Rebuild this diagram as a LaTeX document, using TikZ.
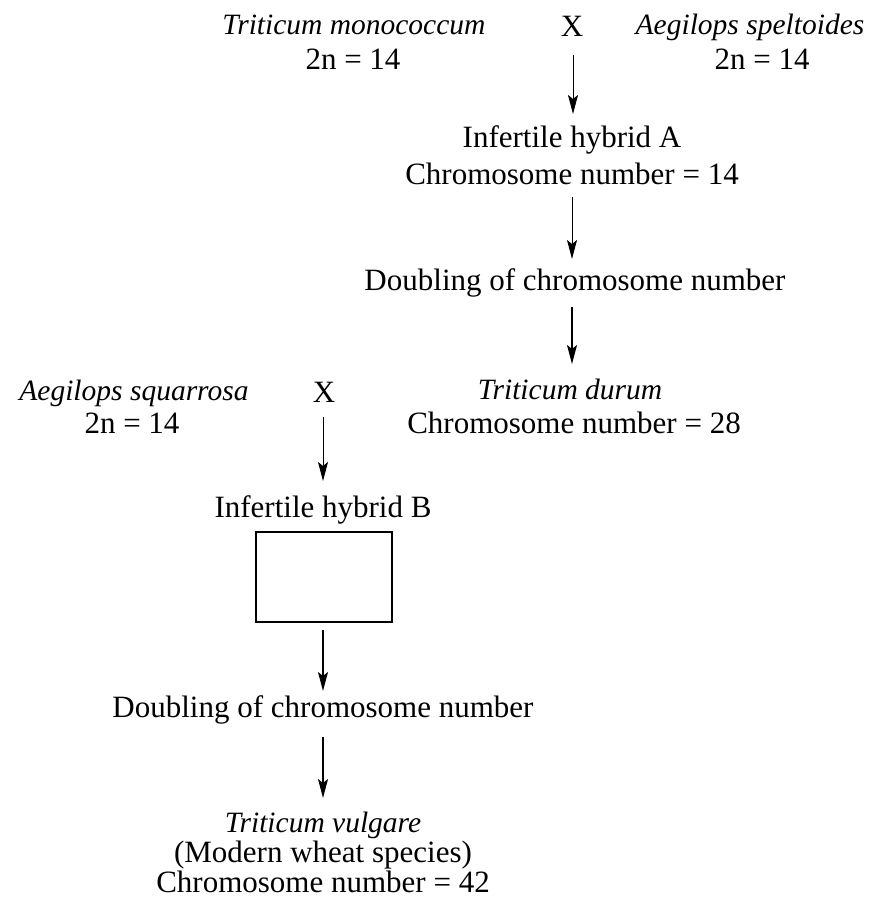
\documentclass[tikz,border=0pt]{standalone}
\usepackage{fontspec}
\setmainfont{Liberation Serif}
\usetikzlibrary{arrows.meta}
\begin{document}
\begin{tikzpicture}[x=1pt,y=-1pt,
  txt/.style={inner sep=0pt,anchor=base,font=\fontsize{31}{36}\selectfont},
  it/.style={inner sep=0pt,anchor=base,font=\fontsize{29.5}{36}\selectfont\itshape},
  arr/.style={line width=1.4pt,-{Stealth[length=19pt,width=10pt,inset=4pt]}},
  thinarr/.style={arr,line width=0.9pt}]
\useasboundingbox (0,0) rectangle (883,904);
% top cross
\node[it] (tm) at (354,35) {Triticum monococcum};
\node[txt] (tmn) at (353,70) {2n = 14};
\node[txt] (x1) at (572,37) {X};
\node[it] (as) at (750,35) {Aegilops speltoides};
\node[txt] (asn) at (762,70) {2n = 14};
\node[txt] (ha) at (572,148) {Infertile hybrid A};
\node[txt] (han) at (572,185) {Chromosome number = 14};
\node[txt] (d1) at (575,290) {Doubling of chromosome number};
\node[it] (td) at (570,399) {Triticum durum};
\node[txt] (tdn) at (574,433) {Chromosome number = 28};
% second cross
\node[it] (sq) at (134,400) {Aegilops squarrosa};
\node[txt] (sqn) at (132,433) {2n = 14};
\node[txt] (x2) at (324,402) {X};
\node[txt] (hb) at (323,517) {Infertile hybrid B};
\node[draw,line width=1.3pt,minimum width=136pt,minimum height=90pt,inner sep=0pt] (box) at (324,577) {};
\node[txt] (d2) at (323,717) {Doubling of chromosome number};
\node[it] (tv) at (323,832) {Triticum vulgare};
\node[txt] (tvm) at (323,862) {(Modern wheat species)};
\node[txt] (tvn) at (323,892) {Chromosome number = 42};
% connectors
\coordinate (a1s) at (573,55);  \coordinate (a1e) at (573,114);
\coordinate (a2s) at (572,197); \coordinate (a2e) at (572,259);
\coordinate (a3s) at (572,307); \coordinate (a3e) at (572,364);
\coordinate (a4s) at (323,417); \coordinate (a4e) at (323,481);
\coordinate (a5s) at (323,630); \coordinate (a5e) at (323,691);
\coordinate (a6s) at (323,737); \coordinate (a6e) at (323,798);
\draw[thinarr] (a1s) -- (a1e);
\draw[thinarr] (a2s) -- (a2e);
\draw[arr] (a3s) -- (a3e);
\draw[thinarr] (a4s) -- (a4e);
\draw[arr] (a5s) -- (a5e);
\draw[arr] (a6s) -- (a6e);
\end{tikzpicture}
\end{document}
